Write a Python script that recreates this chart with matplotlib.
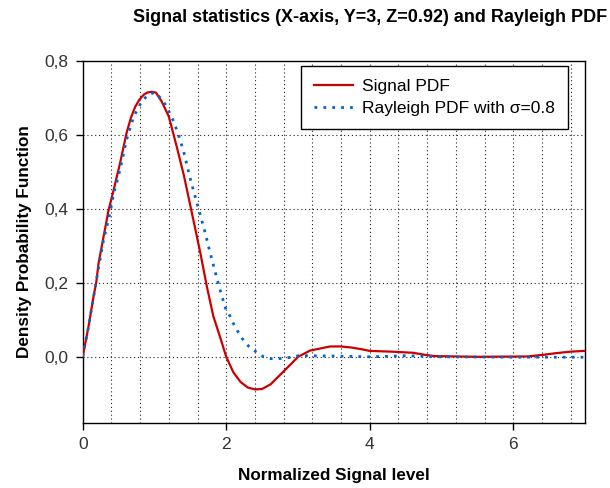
import matplotlib
matplotlib.use("Agg")
import matplotlib.pyplot as plt
from matplotlib.ticker import MultipleLocator, FixedLocator, FuncFormatter

plt.rcParams['font.family'] = ['Liberation Sans', 'DejaVu Sans']

# Signal PDF (red)
sig_x = [0, 0.08, 0.15, 0.19, 0.22, 0.29, 0.36, 0.43, 0.52, 0.61, 0.67, 0.73, 0.79, 0.85, 0.90,
         0.96, 1.02, 1.10, 1.20, 1.31, 1.41, 1.52, 1.64, 1.73, 1.82, 1.92, 2.00,
         2.10, 2.20, 2.30, 2.40, 2.50, 2.62, 2.76, 2.90, 3.00, 3.17, 3.45, 3.60,
         3.75, 3.90, 4.00, 4.30, 4.60, 4.75, 4.90, 5.50, 6.20, 6.40, 6.60, 6.80, 7.00]
sig_y = [0, 0.081, 0.162, 0.203, 0.252, 0.324, 0.396, 0.45, 0.523, 0.604, 0.645, 0.675, 0.695, 0.708, 0.714,
         0.716, 0.714, 0.69, 0.649, 0.568, 0.49, 0.39, 0.28, 0.19, 0.11, 0.05, 0.0,
         -0.042, -0.068, -0.083, -0.088, -0.087, -0.074, -0.047, -0.02, 0.0, 0.017, 0.028, 0.028,
         0.025, 0.02, 0.016, 0.014, 0.011, 0.006, 0.002, 0.0, 0.001, 0.005, 0.01, 0.014, 0.016]

# Rayleigh PDF (blue dotted)
ray_x = [0, 0.08, 0.15, 0.22, 0.29, 0.38, 0.43, 0.52, 0.61, 0.71, 0.82, 0.92, 1.01,
         1.10, 1.17, 1.265, 1.335, 1.405, 1.50, 1.60, 1.70, 1.755, 1.815, 1.895, 1.99,
         2.05, 2.10, 2.16, 2.22, 2.31, 2.42, 2.52, 2.62, 2.73, 2.84, 2.94, 3.03,
         3.12, 3.50, 4.00, 4.50, 5.00, 6.00, 7.00]
ray_y = [0, 0.08, 0.16, 0.24, 0.315, 0.388, 0.44, 0.505, 0.586, 0.649, 0.689, 0.71, 0.714,
         0.696, 0.676, 0.637, 0.599, 0.556, 0.48, 0.41, 0.34, 0.297, 0.252, 0.194, 0.131,
         0.111, 0.09, 0.069, 0.05, 0.029, 0.013, 0.0, -0.005, -0.005, -0.003, 0.0, 0.004,
         0.003, 0.002, 0.0, 0.003, 0.0, -0.001, -0.001]

labels = ["Signal PDF", "Rayleigh PDF with σ=0.8"]
x_ticks = [0, 2, 4, 6]
y_ticks = [0.0, 0.2, 0.4, 0.6, 0.8]

fig = plt.figure(figsize=(6.1, 4.88), dpi=100)
ax = fig.add_axes([0.1356, 0.1338, 0.959 - 0.1356, 0.8756 - 0.1338])

ax.plot(sig_x, sig_y, color='#CC0000', lw=1.6, label=labels[0], zorder=3)
ax.plot(ray_x, ray_y, color='#0066CC', lw=2.0, linestyle=(0, (1, 2.2)),
        dash_capstyle='butt', label=labels[1], zorder=4)

ax.set_xlim(0, 7)
ax.set_ylim(-0.178, 0.8)
ax.xaxis.set_major_locator(FixedLocator(x_ticks))
ax.yaxis.set_major_locator(FixedLocator(y_ticks))
ax.xaxis.set_minor_locator(MultipleLocator(0.4))
ax.yaxis.set_major_formatter(FuncFormatter(lambda v, p: f"{v:.1f}".replace('.', ',')))
ax.xaxis.set_major_formatter(FuncFormatter(lambda v, p: f"{v:.0f}"))
ax.tick_params(axis='both', which='major', direction='out', length=5, width=1,
               labelsize=12.5, colors='black', labelcolor='#333333', pad=5)
ax.tick_params(axis='x', which='minor', length=0)
ax.grid(True, which='both', axis='x', color='#222222', linestyle=(0, (1, 2.5)), lw=0.8)
ax.grid(True, which='major', axis='y', color='#222222', linestyle=(0, (1, 2.5)), lw=0.8)
ax.set_axisbelow(True)
for s in ax.spines.values():
    s.set_linewidth(1.0)
    s.set_color('black')

ax.set_xlabel("Normalized Signal level", fontsize=12.3, fontweight='bold', labelpad=12)
ax.set_ylabel("Density Probability Function", fontsize=12.3, fontweight='bold', labelpad=9)
fig.text(370 / 610, 1 - 18 / 488, "Signal statistics (X-axis, Y=3, Z=0.92) and Rayleigh PDF",
         fontsize=13, fontweight='bold', ha='center', va='center')

leg = ax.legend(loc='upper right', bbox_to_anchor=(0.966, 0.986), borderaxespad=0,
                fontsize=12.5, frameon=True, fancybox=False, handlelength=2.25,
                borderpad=0.75, labelspacing=0.4, handletextpad=0.5)
leg.get_frame().set_edgecolor('black')
leg.get_frame().set_linewidth(1.0)
leg.get_frame().set_alpha(1)

fig.savefig("out.png", dpi=100)
